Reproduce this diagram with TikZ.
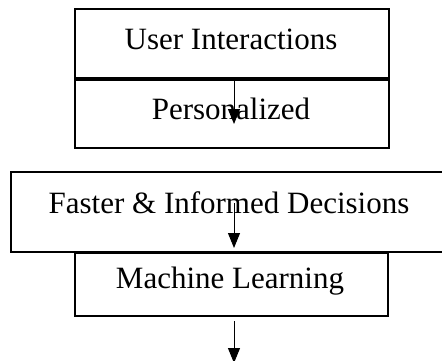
\documentclass[tikz,border=0pt]{standalone}
\usepackage{fontspec}
\setmainfont{Liberation Serif}
\usetikzlibrary{arrows.meta}
\begin{document}
\begin{tikzpicture}[x=1pt,y=-1pt,
  box/.style={draw=black,line width=2pt,rectangle,inner sep=0pt,outer sep=0pt},
  lbl/.style={anchor=base,inner sep=0pt,font=\fontsize{31}{36}\selectfont},
  arr/.style={line width=1pt,-{Triangle[width=12pt,length=15pt]}}]
\useasboundingbox (0,0) rectangle (442,361);
\clip (0,0) rectangle (442,361);
% boxes
\node[box,minimum width=314pt,minimum height=69pt] (b1) at (232,43.5) {};
\node[box,minimum width=314pt,minimum height=68pt] (b2) at (232,114) {};
\node[box,minimum width=450pt,minimum height=80pt] (b3) at (236,212) {};
\node[box,minimum width=313pt,minimum height=63pt] (b4) at (231.5,284.5) {};
% texts
\node[lbl] (t1) at (231,50) {User Interactions};
\node[lbl] (t2) at (231,120) {Personalized};
\node[lbl] (t3) at (229,213) {Faster \& Informed Decisions};
\node[lbl] (t4) at (230,288) {Machine Learning};
% arrows
\coordinate (a1s) at (234,79);
\coordinate (a1e) at (234,124);
\coordinate (a2s) at (234,203);
\coordinate (a2e) at (234,248);
\coordinate (a3s) at (234,321);
\coordinate (a3e) at (234,363);
\draw[arr] (a1s) -- (a1e);
\draw[arr] (a2s) -- (a2e);
\draw[arr] (a3s) -- (a3e);
\end{tikzpicture}
\end{document}
